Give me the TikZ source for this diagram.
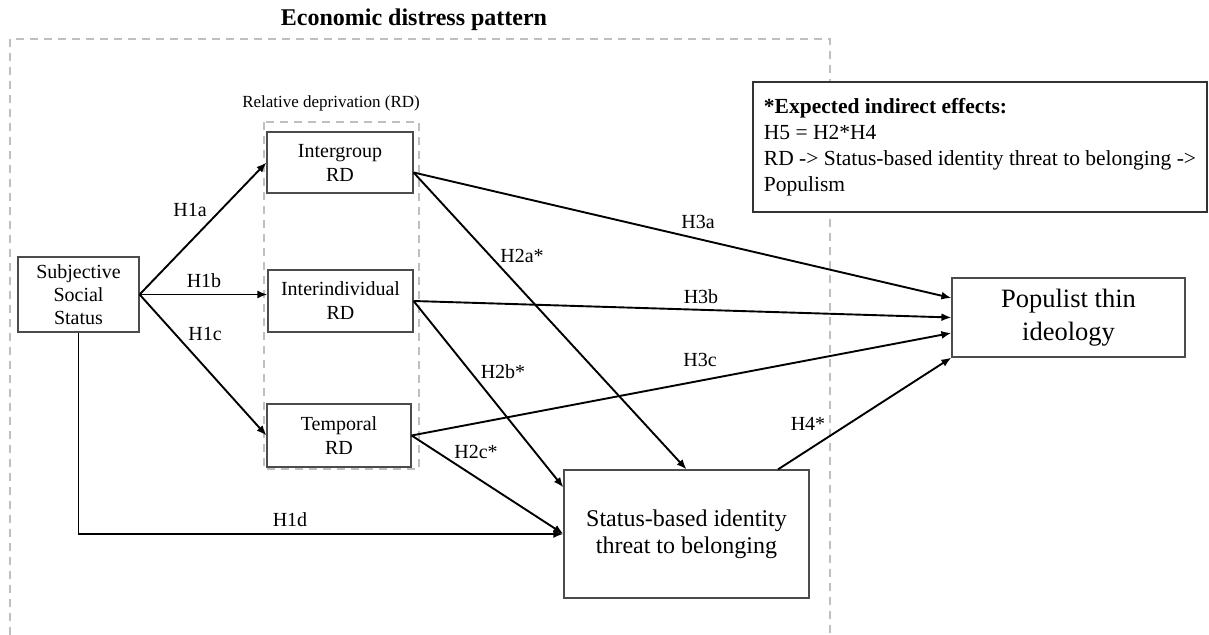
\documentclass[tikz,border=0pt]{standalone}
\usepackage{fontspec}
\setmainfont{Liberation Serif}
\usetikzlibrary{arrows.meta}
\tikzstyle{varbox}=[draw=black!70,line width=0.6pt,align=center,inner sep=0pt,font=\fontsize{10}{12}\selectfont]
\tikzstyle{edge}=[draw,line width=0.95pt,-{Latex[length=5pt,width=4pt]}]
\tikzstyle{hlabel}=[inner sep=0pt,font=\fontsize{10}{12}\selectfont]
\tikzstyle{zone}=[draw=black!25,line width=0.8pt,dash pattern=on 4pt off 3pt]

\begin{document}
\begin{tikzpicture}[x=0.5pt,y=-0.5pt]
\useasboundingbox (0,0) rectangle (1209,635);

    % dashed areas
    \path[zone] (10,635) -- (10,39) -- (830,39) -- (830,635);
    \node[inner sep=0pt,font=\bfseries\fontsize{12}{14}\selectfont] (title) at (414,20) {Economic distress pattern};
    \path[zone] (264,122) rectangle (419,469);
    \node[hlabel,font=\fontsize{8.5}{10}\selectfont] (rdtitle) at (331,103) {Relative deprivation (RD)};

    % variables
    \node[varbox,minimum width=60.5pt,minimum height=37.5pt,font=\fontsize{10}{11.5}\selectfont] (sss) at (78.5,294.5) {Subjective\\Social\\Status};
    \node[varbox,minimum width=73pt,minimum height=30.5pt] (ig) at (340,162.5) {Intergroup\\RD};
    \node[varbox,minimum width=72.5pt,minimum height=31pt] (ii) at (340.5,301) {Interindividual\\RD};
    \node[varbox,minimum width=72pt,minimum height=31.5pt] (tp) at (339,435.5) {Temporal\\RD};
    \node[varbox,minimum width=116.5pt,minimum height=39.5pt,font=\fontsize{13.25}{16.5}\selectfont] (pop) at (1068.5,317.5) {Populist thin\\ideology};
    \node[varbox,minimum width=122.5pt,minimum height=64pt,font=\fontsize{12}{13.7}\selectfont] (threat) at (686.5,534) {Status-based identity\\threat to belonging};
    \node[draw=black!80,fill=white,line width=0.6pt,minimum width=227pt,minimum height=65pt,align=left,inner sep=0pt,font=\fontsize{10.75}{13}\selectfont] (note) at (980,147) {\textbf{*Expected indirect effects:}\\H5 = H2*H4\\RD -> Status-based identity threat to belonging ->\\Populism};

    % end points on the boxes
    \coordinate (ig-out) at ([yshift=-5pt]ig.east);
    \coordinate (ii-in) at (ii.west |- sss.east);
    \coordinate (pop-a) at ([yshift=9.75pt]pop.west);
    \coordinate (pop-c) at ([yshift=-7.75pt]pop.west);
    \coordinate (threat-b) at ([yshift=-9pt]threat.north west);
    \coordinate (threat-top) at ([xshift=45.75pt]threat.north);

    % hypotheses
    \foreach \source/ \dest in {sss.east/ig.west, sss.east/ii-in, sss.east/tp.west, ig-out/threat.north, ig-out/pop-a, ii.east/threat-b, ii.east/pop.west, tp.east/pop-c, tp.east/threat.west, threat-top/pop.south west}
        \path[edge] (\source) -- (\dest);
    \draw[edge] (sss.south) |- (threat.west);

    \foreach \pos/ \name/ \txt in {{(190,210)/h1a/H1a}, {(204,281)/h1b/H1b}, {(205,334)/h1c/H1c}, {(290,520)/h1d/H1d}, {(522,256)/h2a/H2a*}, {(503,372)/h2b/H2b*}, {(476,452)/h2c/H2c*}, {(698,222)/h3a/H3a}, {(701,297)/h3b/H3b}, {(700,360)/h3c/H3c}, {(808,424)/h4/H4*}}
        \node[hlabel] (\name) at \pos {\txt};

\end{tikzpicture}
\end{document}
